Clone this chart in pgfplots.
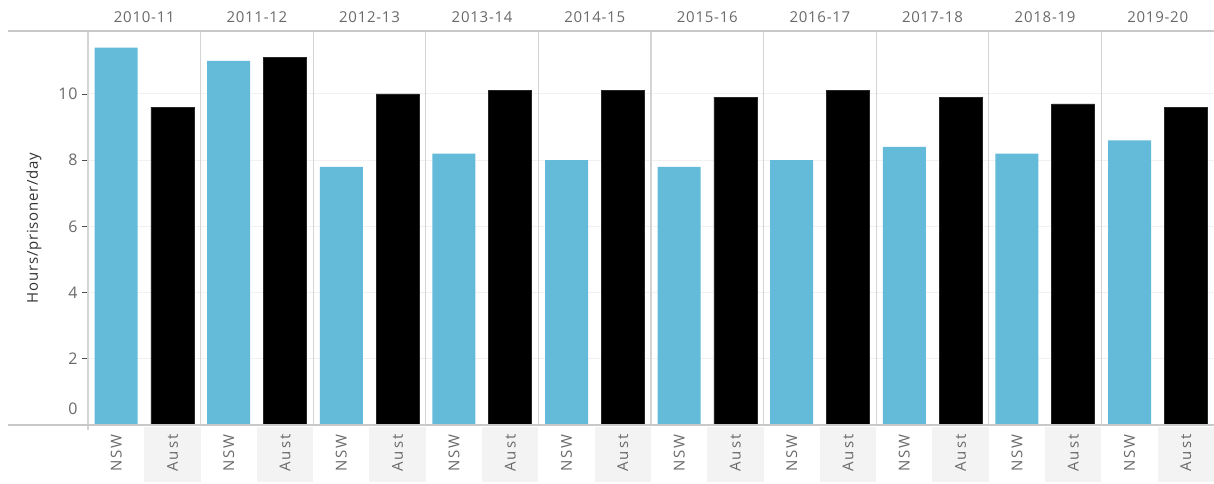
\documentclass[border=0pt]{standalone}
\usepackage{pgfplots}
\pgfplotsset{compat=1.18}
\usepackage{fontspec}
\setmainfont{Open Sans}[LetterSpace=5]
\definecolor{nsw}{RGB}{99,187,217}
\definecolor{sep}{RGB}{212,212,212}
\definecolor{axl}{RGB}{200,200,200}
\definecolor{gridc}{RGB}{241,241,241}
\definecolor{txt}{RGB}{105,105,105}
\definecolor{band}{RGB}{243,243,243}
\tikzset{cat/.style={rotate=90, anchor=east, inner sep=0pt, text=txt, font=\fontsize{15}{17}\selectfont\addfontfeatures{LetterSpace=14}},
  yr/.style={text=txt, font=\fontsize{15}{17}\selectfont}}
\begin{document}
\begin{tikzpicture}
\useasboundingbox (-88pt,-58pt) rectangle (1126pt,425pt);
\begin{axis}[
  at={(0,0)}, anchor=south west, scale only axis,
  width=1126pt, height=394pt,
  xmin=0, xmax=20, ymin=0, ymax=11.9,
  clip=false,
  axis line style={draw=none},
  xtick=\empty,
  ytick={2,4,...,10},
  ymajorgrids, y grid style={gridc, line width=1pt},
  tick align=outside, major tick length=6pt,
  y tick style={color=black!70, line width=0.8pt},
  yticklabel style={font=\fontsize{16}{18}\selectfont, text=txt, xshift=-1pt},
  extra y ticks={0},
  extra y tick style={grid=none, major tick length=0pt, yticklabel style={yshift=16pt, xshift=-6pt}},
  /pgf/number format/assume math mode=true,
]
\fill[band] ([yshift=-2pt]axis cs:1,0) rectangle ([yshift=-57pt]axis cs:2,0);
\fill[band] ([yshift=-2pt]axis cs:3,0) rectangle ([yshift=-57pt]axis cs:4,0);
\fill[band] ([yshift=-2pt]axis cs:5,0) rectangle ([yshift=-57pt]axis cs:6,0);
\fill[band] ([yshift=-2pt]axis cs:7,0) rectangle ([yshift=-57pt]axis cs:8,0);
\fill[band] ([yshift=-2pt]axis cs:9,0) rectangle ([yshift=-57pt]axis cs:10,0);
\fill[band] ([yshift=-2pt]axis cs:11,0) rectangle ([yshift=-57pt]axis cs:12,0);
\fill[band] ([yshift=-2pt]axis cs:13,0) rectangle ([yshift=-57pt]axis cs:14,0);
\fill[band] ([yshift=-2pt]axis cs:15,0) rectangle ([yshift=-57pt]axis cs:16,0);
\fill[band] ([yshift=-2pt]axis cs:17,0) rectangle ([yshift=-57pt]axis cs:18,0);
\fill[band] ([yshift=-2pt]axis cs:19,0) rectangle ([yshift=-57pt]axis cs:20,0);
\pgfplotsinvokeforeach{2,4,...,18}{
  \draw[sep, line width=1.3pt] (axis cs:#1,0) -- (axis cs:#1,11.9);
}
\draw[sep, line width=1.3pt] ([yshift=-5pt]axis cs:0,0) -- (axis cs:0,11.9);
\addplot[ybar, bar shift=0pt, bar width=43pt, fill=nsw, draw=none] coordinates {
(0.5,11.4) (2.5,11.0) (4.5,7.8) (6.5,8.2) (8.5,8.0) (10.5,7.8) (12.5,8.0) (14.5,8.4) (16.5,8.2) (18.5,8.6)};
\addplot[ybar, bar shift=0pt, bar width=43pt, fill=black, draw=black!85, line width=0.5pt] coordinates {
(1.5,9.6) (3.5,11.1) (5.5,10.0) (7.5,10.1) (9.5,10.1) (11.5,9.9) (13.5,10.1) (15.5,9.9) (17.5,9.7) (19.5,9.6)};
\draw[axl, line width=1.5pt] ([xshift=-80pt]axis cs:0,0) -- (axis cs:20,0);
\draw[axl, line width=1.5pt] ([xshift=-80pt]axis cs:0,11.9) -- (axis cs:20,11.9);
\node[rotate=90, text=black!80, font=\fontsize{15}{17}\selectfont] at ([xshift=-54pt]axis cs:0,5.95) {Hours/prisoner/day};
\node[cat] at ([yshift=-9pt]axis cs:0.5,0) {NSW};
\node[cat] at ([yshift=-9pt]axis cs:1.5,0) {Aust};
\node[cat] at ([yshift=-9pt]axis cs:2.5,0) {NSW};
\node[cat] at ([yshift=-9pt]axis cs:3.5,0) {Aust};
\node[cat] at ([yshift=-9pt]axis cs:4.5,0) {NSW};
\node[cat] at ([yshift=-9pt]axis cs:5.5,0) {Aust};
\node[cat] at ([yshift=-9pt]axis cs:6.5,0) {NSW};
\node[cat] at ([yshift=-9pt]axis cs:7.5,0) {Aust};
\node[cat] at ([yshift=-9pt]axis cs:8.5,0) {NSW};
\node[cat] at ([yshift=-9pt]axis cs:9.5,0) {Aust};
\node[cat] at ([yshift=-9pt]axis cs:10.5,0) {NSW};
\node[cat] at ([yshift=-9pt]axis cs:11.5,0) {Aust};
\node[cat] at ([yshift=-9pt]axis cs:12.5,0) {NSW};
\node[cat] at ([yshift=-9pt]axis cs:13.5,0) {Aust};
\node[cat] at ([yshift=-9pt]axis cs:14.5,0) {NSW};
\node[cat] at ([yshift=-9pt]axis cs:15.5,0) {Aust};
\node[cat] at ([yshift=-9pt]axis cs:16.5,0) {NSW};
\node[cat] at ([yshift=-9pt]axis cs:17.5,0) {Aust};
\node[cat] at ([yshift=-9pt]axis cs:18.5,0) {NSW};
\node[cat] at ([yshift=-9pt]axis cs:19.5,0) {Aust};
\node[yr] at ([yshift=14pt]axis cs:1,11.9) {2010-11};
\node[yr] at ([yshift=14pt]axis cs:3,11.9) {2011-12};
\node[yr] at ([yshift=14pt]axis cs:5,11.9) {2012-13};
\node[yr] at ([yshift=14pt]axis cs:7,11.9) {2013-14};
\node[yr] at ([yshift=14pt]axis cs:9,11.9) {2014-15};
\node[yr] at ([yshift=14pt]axis cs:11,11.9) {2015-16};
\node[yr] at ([yshift=14pt]axis cs:13,11.9) {2016-17};
\node[yr] at ([yshift=14pt]axis cs:15,11.9) {2017-18};
\node[yr] at ([yshift=14pt]axis cs:17,11.9) {2018-19};
\node[yr] at ([yshift=14pt]axis cs:19,11.9) {2019-20};
\end{axis}
\end{tikzpicture}
\end{document}
